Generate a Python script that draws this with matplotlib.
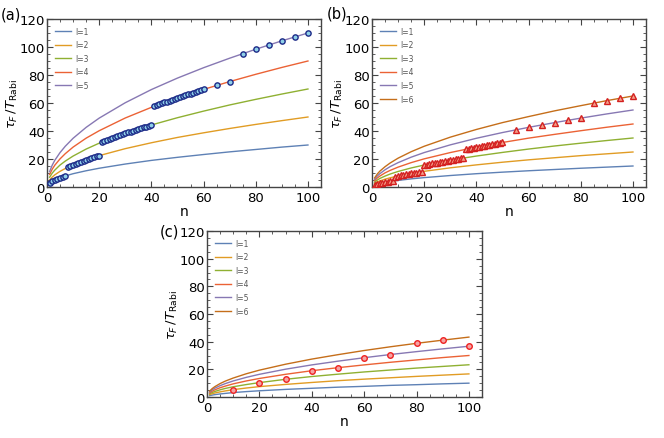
import numpy as np
import matplotlib
matplotlib.use('Agg')
import matplotlib.pyplot as plt
from matplotlib.ticker import MultipleLocator

plt.rcParams['font.family'] = 'DejaVu Sans'
plt.rcParams['mathtext.fontset'] = 'dejavusans'

# Mathematica default palette
colors = ['#5E81B5', '#E19C24', '#8FB032', '#EB6235', '#8778B3', '#C56E1A']

# curve sample points (n) and values
n_curve = [1, 2, 3, 5, 7, 10, 15, 20, 30, 40, 50, 60, 70, 80, 90, 100]

curves_a = [
    [3.0, 4.2, 5.2, 6.7, 7.9, 9.5, 11.6, 13.4, 16.4, 19.0, 21.2, 23.2, 25.1, 26.8, 28.5, 30.0],
    [5.0, 7.1, 8.7, 11.2, 13.2, 15.8, 19.4, 22.4, 27.4, 31.6, 35.4, 38.7, 41.8, 44.7, 47.4, 50.0],
    [7.0, 9.9, 12.1, 15.7, 18.5, 22.1, 27.1, 31.3, 38.3, 44.3, 49.5, 54.2, 58.6, 62.6, 66.4, 70.0],
    [9.0, 12.7, 15.6, 20.1, 23.8, 28.5, 34.9, 40.2, 49.3, 56.9, 63.6, 69.7, 75.3, 80.5, 85.4, 90.0],
    [11.0, 15.6, 19.1, 24.6, 29.1, 34.8, 42.6, 49.2, 60.2, 69.6, 77.8, 85.2, 92.0, 98.4, 104.4, 110.0],
]
curves_b = [
    [1.5, 2.1, 2.6, 3.4, 4.0, 4.7, 5.8, 6.7, 8.2, 9.5, 10.6, 11.6, 12.5, 13.4, 14.2, 15.0],
    [2.5, 3.5, 4.3, 5.6, 6.6, 7.9, 9.7, 11.2, 13.7, 15.8, 17.7, 19.4, 20.9, 22.4, 23.7, 25.0],
    [3.5, 4.9, 6.1, 7.8, 9.3, 11.1, 13.6, 15.7, 19.2, 22.1, 24.7, 27.1, 29.3, 31.3, 33.2, 35.0],
    [4.5, 6.4, 7.8, 10.1, 11.9, 14.2, 17.4, 20.1, 24.6, 28.5, 31.8, 34.9, 37.6, 40.2, 42.7, 45.0],
    [5.5, 7.8, 9.5, 12.3, 14.6, 17.4, 21.3, 24.6, 30.1, 34.8, 38.9, 42.6, 46.0, 49.2, 52.2, 55.0],
    [6.5, 9.2, 11.3, 14.5, 17.2, 20.6, 25.2, 29.1, 35.6, 41.1, 46.0, 50.3, 54.4, 58.1, 61.7, 65.0],
]
curves_c = [
    [1.0, 1.4, 1.7, 2.2, 2.6, 3.2, 3.9, 4.5, 5.5, 6.3, 7.1, 7.7, 8.4, 8.9, 9.5, 10.0],
    [1.7, 2.4, 2.9, 3.7, 4.4, 5.3, 6.5, 7.5, 9.1, 10.5, 11.8, 12.9, 13.9, 14.9, 15.8, 16.7],
    [2.3, 3.3, 4.0, 5.2, 6.2, 7.4, 9.0, 10.4, 12.8, 14.8, 16.5, 18.1, 19.5, 20.9, 22.1, 23.3],
    [3.0, 4.2, 5.2, 6.7, 7.9, 9.5, 11.6, 13.4, 16.4, 19.0, 21.2, 23.2, 25.1, 26.8, 28.5, 30.0],
    [3.7, 5.2, 6.4, 8.2, 9.7, 11.6, 14.2, 16.4, 20.1, 23.2, 25.9, 28.4, 30.7, 32.8, 34.8, 36.7],
    [4.3, 6.1, 7.5, 9.7, 11.5, 13.7, 16.8, 19.4, 23.7, 27.4, 30.6, 33.6, 36.3, 38.8, 41.1, 43.3],
]

# simulated points
n_pts_a = list(range(1, 61)) + [65, 70, 75, 80, 85, 90, 95, 100]
y_pts_a = [3.0, 4.2, 5.2, 6.0, 6.7, 7.3, 7.9,
           14.1, 15.0, 15.8, 16.6, 17.3, 18.0, 18.7, 19.4, 20.0, 20.6, 21.2, 21.8, 22.4,
           32.1, 32.8, 33.6, 34.3, 35.0, 35.7, 36.4, 37.0, 37.7, 38.3, 39.0, 39.6, 40.2, 40.8,
           41.4, 42.0, 42.6, 43.2, 43.7, 44.3,
           57.6, 58.3, 59.0, 59.7, 60.4, 61.0, 61.7, 62.4, 63.0, 63.6, 64.3, 64.9, 65.5, 66.1,
           66.7, 67.3, 67.9, 68.5, 69.1, 69.7,
           72.6, 75.3, 95.3, 98.4, 101.4, 104.4, 107.2, 110.0]

n_pts_b = list(range(1, 51)) + [55, 60, 65, 70, 75, 80, 85, 90, 95, 100]
y_pts_b = [1.5, 2.1, 2.6, 3.0, 3.4, 3.7, 4.0, 4.2,
           7.5, 7.9, 8.3, 8.7, 9.0, 9.4, 9.7, 10.0, 10.3, 10.6, 10.9,
           15.7, 16.0, 16.4, 16.8, 17.1, 17.5, 17.8, 18.2, 18.5, 18.8, 19.2, 19.5, 19.8, 20.1,
           20.4, 20.7,
           27.0, 27.4, 27.7, 28.1, 28.5, 28.8, 29.2, 29.5, 29.8, 30.2, 30.5, 30.9, 31.2, 31.5, 31.8,
           40.8, 42.6, 44.3, 46.0, 47.6, 49.2, 59.9, 61.7, 63.4, 65.0]

n_pts_c = [10, 20, 30, 40, 50, 60, 70, 80, 90, 100]
y_pts_c = [5.3, 10.4, 12.8, 19.0, 21.2, 28.4, 30.7, 38.8, 41.1, 36.7]

fig = plt.figure(figsize=(6.64, 4.39), dpi=100)
W, H = 664, 439


def make_ax(x0, y0, x1, y1):
    return fig.add_axes([x0 / W, 1 - y1 / H, (x1 - x0) / W, (y1 - y0) / H])


def style(ax):
    ax.set_xlim(0, 105)
    ax.set_ylim(0, 120)
    ax.xaxis.set_major_locator(MultipleLocator(20))
    ax.xaxis.set_minor_locator(MultipleLocator(5))
    ax.yaxis.set_major_locator(MultipleLocator(20))
    ax.yaxis.set_minor_locator(MultipleLocator(5))
    ax.tick_params(which='both', direction='in', top=True, right=True,
                   color='#444444', labelsize=9.5, pad=1.5)
    ax.tick_params(axis='x', pad=3)
    ax.tick_params(which='major', length=4, width=0.8)
    ax.tick_params(which='minor', length=2, width=0.6)
    for s in ax.spines.values():
        s.set_color('#444444')
        s.set_linewidth(1.0)
    ax.set_xlabel('n', fontsize=10, labelpad=0)
    ax.set_ylabel(r'$\tau_F\,/T_{\rm Rabi}$', fontsize=9.5, labelpad=0)


def draw(ax, curves):
    for i, ys in enumerate(curves):
        ax.plot(n_curve, ys, color=colors[i], lw=1.0, label='l=%d' % (i + 1), zorder=2)
    leg = ax.legend(loc='upper left', fontsize=5.5, frameon=False, handlelength=2.2,
                    handletextpad=0.5, labelspacing=0.6, borderaxespad=0.5,
                    borderpad=0.5)
    for t in leg.get_texts():
        t.set_color('#555555')


ax_a = make_ax(47, 20, 321, 188)
draw(ax_a, curves_a)
ax_a.plot(n_pts_a, y_pts_a, 'o', ms=3.8, mfc='#8fd0e8', mec='#1c2a88', mew=1.0,
          zorder=3, linestyle='none')
style(ax_a)
fig.text(1 / W, 1 - 15 / H, '(a)', fontsize=10.5, va='center', ha='left')

ax_b = make_ax(372, 20, 646, 188)
draw(ax_b, curves_b)
ax_b.plot(n_pts_b, y_pts_b, '^', ms=4.0, mfc='#f2a08a', mec='#d42020', mew=1.0,
          zorder=3, linestyle='none')
style(ax_b)
fig.text(327 / W, 1 - 14 / H, '(b)', fontsize=10.5, va='center', ha='left')

ax_c = make_ax(207, 232, 482, 398)
draw(ax_c, curves_c)
ax_c.plot(n_pts_c, y_pts_c, 'o', ms=4.0, mfc='#f5a3a3', mec='#ee2222', mew=1.0,
          zorder=3, linestyle='none')
style(ax_c)
fig.text(160 / W, 1 - 232 / H, '(c)', fontsize=10.5, va='center', ha='left')

fig.savefig('out.png', dpi=100)
